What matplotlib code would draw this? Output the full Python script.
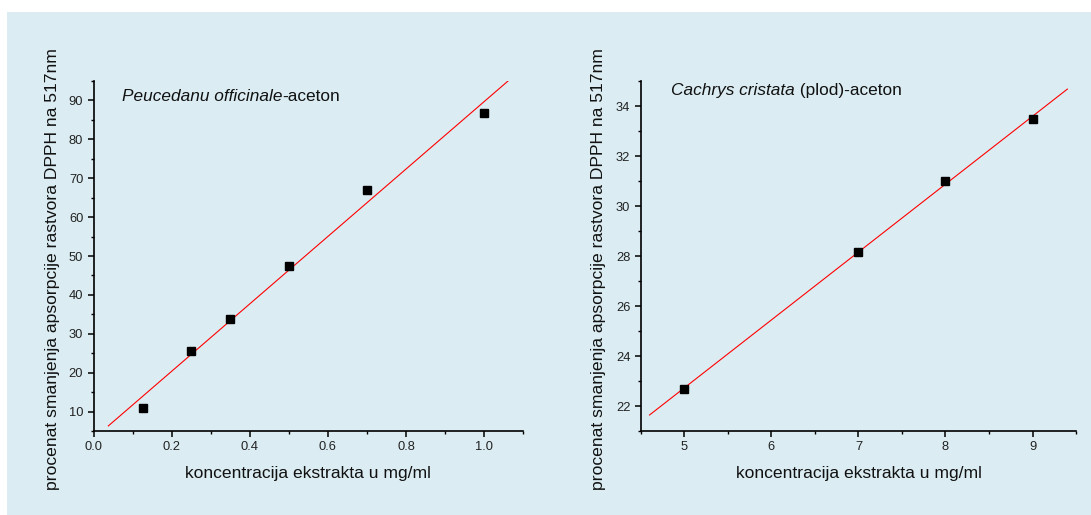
import matplotlib

matplotlib.use("Agg")
import matplotlib.pyplot as plt
from matplotlib.patches import Rectangle
from matplotlib.ticker import MultipleLocator
import numpy as np

# Peucedanum officinale - aceton
CONC_LEFT = [0.125, 0.25, 0.35, 0.5, 0.7, 1.0]
INHIB_LEFT = [11.0, 25.7, 33.8, 47.4, 67.0, 86.8]

# Cachrys cristata (plod) - aceton
CONC_RIGHT = [5, 7, 8, 9]
INHIB_RIGHT = [22.7, 28.15, 31.0, 33.5]

X_LABEL = "koncentracija ekstrakta u mg/ml"
Y_LABEL = "procenat smanjenja apsorpcije rastvora DPPH na 517nm"

BG_COLOR = "#dbedf3"
FONT = "Liberation Sans"
LABEL_SIZE = 12.6
TITLE_SIZE = 12.4


def fit_line(ax, x, y):
    x = np.asarray(x, dtype=float)
    y = np.asarray(y, dtype=float)
    slope, intercept = np.polyfit(x, y, 1)
    span = x.max() - x.min()
    xs = np.array([x.min() - 0.1 * span, x.max() + 0.1 * span])
    ax.plot(xs, slope * xs + intercept, color="red", linewidth=0.8, zorder=2)


def style_axes(ax):
    ax.set_facecolor("none")
    for side in ("top", "right"):
        ax.spines[side].set_visible(False)
    for side in ("left", "bottom"):
        ax.spines[side].set_linewidth(1.2)
    ax.tick_params(which="major", direction="out", length=4, width=1.1,
                   labelsize=9.3, pad=3.5, labelcolor="#222222")
    ax.tick_params(which="minor", direction="out", length=2.3, width=1.0)
    ax.set_xlabel(X_LABEL, fontsize=LABEL_SIZE, color="#111111")
    ax.set_ylabel(Y_LABEL, fontsize=LABEL_SIZE, color="#111111")
    ax.yaxis.set_label_coords(-0.079, 0.463)
    ax.xaxis.set_label_coords(0.5, -0.10)


def panel_title(fig, ax, species, suffix, pos):
    # italic species name followed by an upright suffix
    t1 = ax.text(pos[0], pos[1], species, transform=ax.transAxes,
                 fontsize=TITLE_SIZE, fontstyle="italic", va="center",
                 ha="left", color="#111111")
    fig.canvas.draw()
    bb = t1.get_window_extent().transformed(ax.transAxes.inverted())
    ax.text(bb.x1, pos[1], suffix, transform=ax.transAxes, fontsize=TITLE_SIZE,
            va="center", ha="left", color="#111111")


def main():
    plt.rcParams["font.family"] = [FONT, "DejaVu Sans"]
    fig = plt.figure(figsize=(10.91, 5.15), dpi=100)
    fig.patch.set_facecolor("white")
    bg = Rectangle((7 / 1091, 0), 1 - 7 / 1091, 1 - 12 / 515,
                   transform=fig.transFigure, facecolor=BG_COLOR,
                   edgecolor="none", zorder=-10)
    fig.add_artist(bg)

    # left panel
    ax1 = fig.add_axes([0.0859, 0.1631, 0.3935, 0.6796])
    ax1.plot(CONC_LEFT, INHIB_LEFT, "s", color="black", markersize=5.2, zorder=3)
    fit_line(ax1, CONC_LEFT, INHIB_LEFT)
    ax1.set_xlim(0, 1.1)
    ax1.set_ylim(5, 95)
    ax1.xaxis.set_major_locator(MultipleLocator(0.2))
    ax1.xaxis.set_minor_locator(MultipleLocator(0.1))
    ax1.xaxis.set_major_formatter(lambda v, pos: f"{v:.1f}")
    ax1.set_yticks(np.arange(10, 91, 10))
    ax1.yaxis.set_minor_locator(MultipleLocator(5))
    style_axes(ax1)

    # right panel
    ax2 = fig.add_axes([0.5874, 0.1631, 0.3989, 0.6796])
    ax2.plot(CONC_RIGHT, INHIB_RIGHT, "s", color="black", markersize=5.2, zorder=3)
    fit_line(ax2, CONC_RIGHT, INHIB_RIGHT)
    ax2.set_xlim(4.5, 9.5)
    ax2.set_ylim(21, 35)
    ax2.xaxis.set_major_locator(MultipleLocator(1))
    ax2.xaxis.set_minor_locator(MultipleLocator(0.5))
    ax2.set_yticks(np.arange(22, 35, 2))
    ax2.yaxis.set_minor_locator(MultipleLocator(1))
    style_axes(ax2)

    panel_title(fig, ax1, "Peucedanu officinale", "-aceton", (0.065, 0.957))
    panel_title(fig, ax2, "Cachrys cristata", " (plod)-aceton", (0.07, 0.972))

    fig.savefig("out.png", dpi=100, facecolor=fig.get_facecolor())
    plt.close(fig)


if __name__ == "__main__":
    main()
